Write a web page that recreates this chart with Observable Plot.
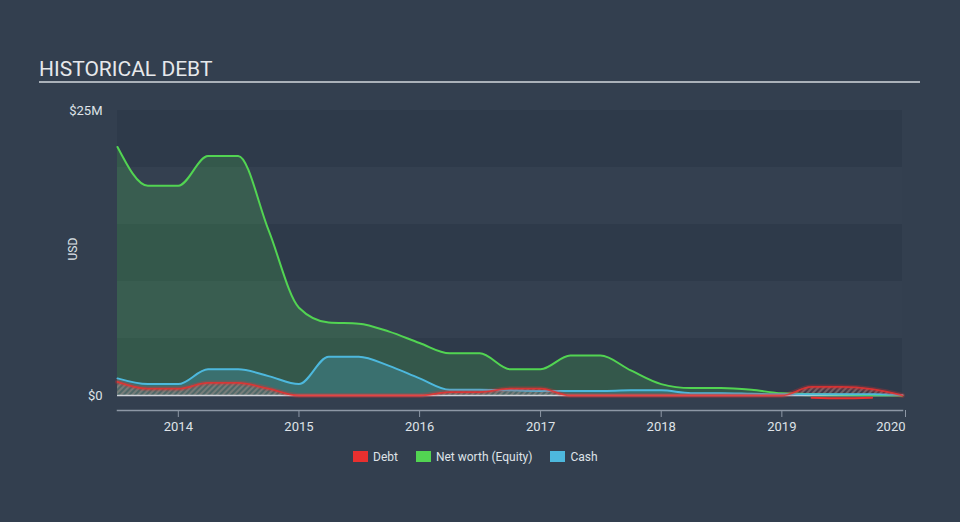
<!DOCTYPE html>
<html><head><meta charset="utf-8">
<script src="https://cdn.jsdelivr.net/npm/d3@7"></script>
<script src="https://cdn.jsdelivr.net/npm/@observablehq/plot@0.6"></script>
<style>
html,body{margin:0;padding:0;background:#333f4f;width:960px;height:522px;overflow:hidden;font-family:Roboto,sans-serif;}
#title{position:absolute;left:39px;top:57px;font-size:21px;line-height:24px;color:#e6e8eb;}
#rule{position:absolute;left:39px;top:81px;width:881px;height:2px;background:#aab1b9;}
#chart{position:absolute;left:0;top:90px;}
#legend{position:absolute;left:353px;top:450px;height:13px;display:flex;align-items:center;font-size:12px;color:#dfe3e8;}
#legend .sw{width:15px;height:11px;margin-right:5px;}
#legend .it{display:flex;align-items:center;margin-right:18px;}
</style></head>
<body>
<div id="title">HISTORICAL DEBT</div>
<div id="rule"></div>
<div id="chart"></div>
<div id="legend"></div>
<script>
const dates = ["2013-07-01","2013-10-01","2014-01-01","2014-04-01","2014-07-01","2014-10-01",
  "2015-01-01","2015-04-01","2015-07-01","2015-10-01","2016-01-01","2016-04-01","2016-07-01",
  "2016-10-01","2017-01-01","2017-04-01","2017-07-01","2017-10-01","2018-01-01","2018-04-01",
  "2018-07-01","2018-10-01","2019-01-01","2019-04-01","2019-07-01","2019-10-01","2020-01-01"];
// values in $M
const equity = [21.8,18.4,18.4,21.0,21.0,14.5,7.7,6.4,6.3,5.6,4.6,3.7,3.7,2.3,2.3,3.5,3.5,2.2,1.0,0.65,0.65,0.5,0.2,-0.2,-0.25,-0.2,0.0];
const cash   = [1.5,1.0,1.0,2.3,2.3,1.7,1.0,3.4,3.4,2.6,1.5,0.5,0.5,0.45,0.4,0.4,0.4,0.45,0.45,0.2,0.2,0.15,0.1,0.1,0.1,0.1,0.05];
const debt   = [1.2,0.6,0.6,1.1,1.1,0.6,0.0,0.0,0.0,0.0,0.0,0.3,0.3,0.6,0.6,0.0,0.0,0.0,0.0,0.0,0.0,0.0,0.0,0.75,0.75,0.55,0.0];
const xTickYears = [2014,2015,2016,2017,2018,2019,2020];
const yTicks = [0,25];
const seriesNames = ["Debt","Net worth (Equity)","Cash"];
const seriesColors = ["#e8302f","#52d452","#4db8dd"];

const data = dates.map((d,i)=>({date:new Date(d), equity:equity[i], cash:cash[i], debt:debt[i]}));
const xDomain = [new Date("2013-07-01"), new Date("2020-01-01")];
const bands = d3.range(0,25,5).map((v,i)=>({y1:v,y2:v+5,dark:i%2===0}));
const RED = seriesColors[0], GREEN = seriesColors[1], CYAN = seriesColors[2];
const curve = "monotone-x";
const tickDates = xTickYears.map(y=>new Date(Date.UTC(y,0,1)));
const axisStyle = {tickFormat:d3.utcFormat("%Y"), tickSize:7, tickPadding:4, stroke:"#8d97a5", fill:"#dfe3e8", fontSize:13, label:null};

const plot = Plot.plot({
  width:960, height:350,
  marginTop:20, marginBottom:30, marginLeft:117, marginRight:58,
  insetBottom:15,
  style:{background:"transparent", fontFamily:"Roboto, sans-serif"},
  x:{type:"utc", domain:xDomain},
  y:{domain:[0,25]},
  marks:[
    Plot.rect(bands,{x1:()=>xDomain[0], x2:()=>xDomain[1], y1:"y1", y2:"y2", fill:d=>d.dark?"#2e3a4a":"#344050"}),
    Plot.areaY(data,{x:"date", y:"equity", curve, fill:GREEN, fillOpacity:0.2}),
    Plot.areaY(data,{x:"date", y:"cash", curve, fill:CYAN, fillOpacity:0.25}),
    Plot.areaY(data,{x:"date", y:"debt", curve, fill:"url(#hatch)"}),
    Plot.ruleY([0],{stroke:"#d0d4da", strokeWidth:1.5}),
    Plot.line(data,{x:"date", y:"equity", curve, stroke:d=>d.equity<0?RED:GREEN, strokeWidth:2}),
    Plot.line(data,{x:"date", y:"cash", curve, stroke:CYAN, strokeWidth:2}),
    Plot.line(data,{x:"date", y:"debt", curve, stroke:RED, strokeWidth:5, strokeOpacity:0.25}),
    Plot.line(data,{x:"date", y:"debt", curve, stroke:RED, strokeWidth:1.8, strokeOpacity:0.85}),
    Plot.frame({anchor:"bottom", stroke:"#8d97a5", strokeWidth:1.5}),
    Plot.axisX({...axisStyle, ticks:tickDates.slice(0,-1)}),
    Plot.axisX({...axisStyle, ticks:tickDates.slice(-1), textAnchor:"end", dx:3}),
    Plot.axisY({ticks:yTicks, tickSize:0, tickPadding:15, tickFormat:d=>d===0?"$0":`$${d}M`,
      fill:"#dfe3e8", fontSize:13, label:null}),
    Plot.text(["USD"],{frameAnchor:"left", dx:-44, rotate:-90, fill:"#dfe3e8", fontSize:12})
  ]
});
plot.setAttribute("color", "#8d97a5");
const ns = "http://www.w3.org/2000/svg";
const defs = document.createElementNS(ns,"defs");
defs.innerHTML = `<pattern id="hatch" patternUnits="userSpaceOnUse" width="4" height="4" patternTransform="rotate(45)">
  <rect width="4" height="4" fill="rgba(232,48,47,0.12)"></rect>
  <line x1="1" y1="0" x2="1" y2="4" stroke="#a8948e" stroke-opacity="0.6" stroke-width="1.5"></line></pattern>`;
plot.insertBefore(defs, plot.firstChild);
document.getElementById("chart").appendChild(plot);

const leg = document.getElementById("legend");
seriesNames.forEach((n,i)=>{
  const it = document.createElement("div"); it.className="it";
  const sw = document.createElement("div"); sw.className="sw"; sw.style.background = seriesColors[i];
  const t = document.createElement("span"); t.textContent = n;
  it.appendChild(sw); it.appendChild(t); leg.appendChild(it);
});
</script>
</body></html>
